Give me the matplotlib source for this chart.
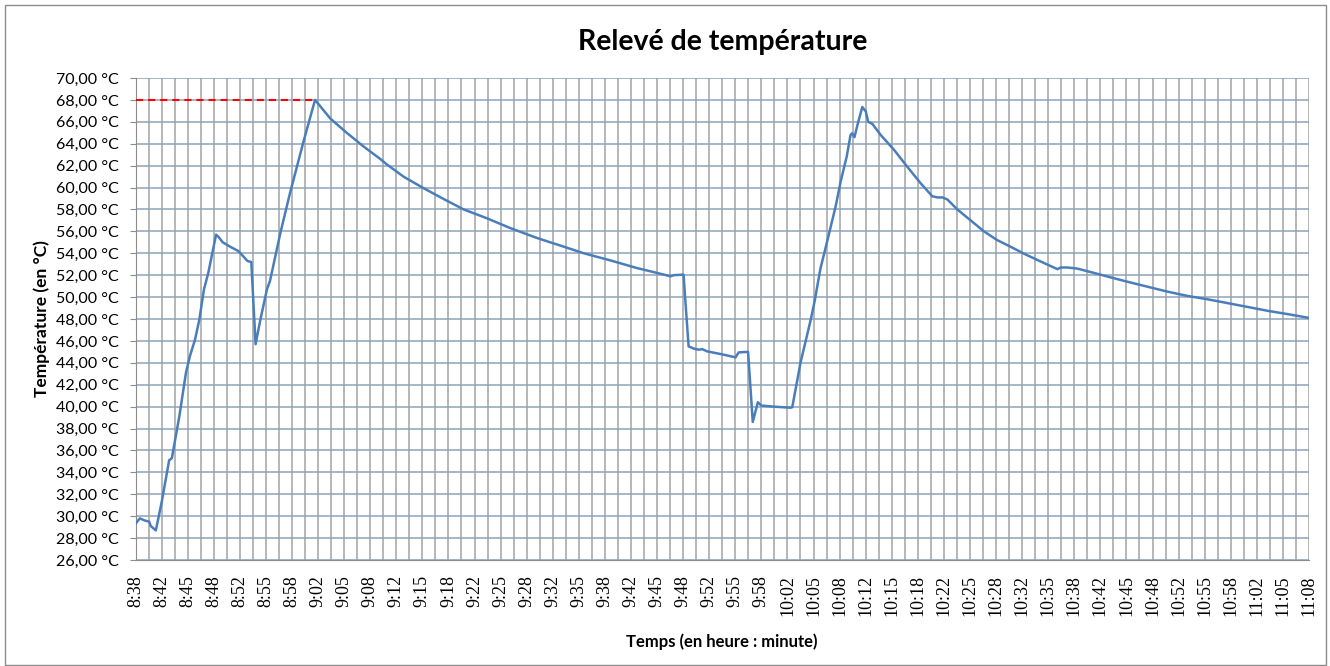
import matplotlib
matplotlib.use("Agg")
import matplotlib.pyplot as plt
from matplotlib.patches import Rectangle
from matplotlib.ticker import FixedLocator, MultipleLocator


# temperature log, minutes elapsed since the first reading (8:38)
minutes = [
    0.0, 0.55, 1.2, 1.75, 1.95, 2.6, 3.35, 4.3, 4.65, 5.6, 6.45, 6.95, 7.6, 8.15,
    8.75, 9.3, 10.3, 10.6, 11.15, 12.1, 13.15, 13.8, 14.3, 14.8, 15.35, 15.95,
    16.8, 17.2, 18.5, 19.75, 21.55, 22.95, 24.9, 27.0, 29.15, 31.3, 32.15, 34.25,
    36.8, 39.4, 41.95, 44.9, 47.9, 51.3, 54.75, 57.3, 60.7, 64.1, 66.7, 68.4,
    68.8, 70.05, 70.3, 70.7, 71.35, 72.0, 72.45, 73.05, 74.8, 76.7, 77.1, 78.3,
    78.9, 79.55, 80.0, 81.6, 83.75, 83.95, 85.0, 86.3, 86.8, 87.55, 88.45, 89.5,
    90.15, 90.9, 91.4, 91.6, 91.9, 92.35, 92.9, 93.35, 93.65, 94.2, 95.25, 96.95,
    98.65, 100.35, 101.85, 102.5, 103.15, 103.8, 105.05, 106.75, 108.45, 110.15,
    111.85, 113.6, 115.7, 117.85, 118.25, 119.15, 120.4, 122.55, 124.65, 126.8,
    129.35, 131.9, 134.5, 137.05, 139.6, 142.15, 144.7, 147.25, 150.0,
]
temperature = [
    29.3, 29.8, 29.6, 29.5, 29.1, 28.7, 31.3, 35.1, 35.3, 39.1, 43.1, 44.6, 46.1, 47.9,
    50.7, 52.2, 55.7, 55.5, 55.0, 54.6, 54.2, 53.7, 53.3, 53.2, 45.7, 47.9,
    50.7, 51.5, 55.8, 59.5, 64.4, 68.0, 66.3, 65.0, 63.75, 62.6, 62.1, 61.0,
    59.95, 58.95, 58.0, 57.2, 56.3, 55.4, 54.6, 54.0, 53.35, 52.65, 52.2, 51.9,
    52.0, 52.05, 49.5, 45.5, 45.3, 45.2, 45.25, 45.05, 44.8, 44.5, 44.95, 45.0,
    38.6, 40.4, 40.1, 40.0, 39.9, 39.95, 44.0, 47.9, 49.6, 52.6, 55.2, 58.3,
    60.6, 62.8, 64.8, 64.95, 64.6, 65.9, 67.35, 66.95, 66.0, 65.8, 64.8, 63.45,
    61.9, 60.4, 59.2, 59.1, 59.1, 58.9, 58.0, 57.0, 56.0, 55.2,
    54.6, 53.95, 53.25, 52.55, 52.7, 52.7, 52.6, 52.2, 51.8, 51.4,
    50.95, 50.5, 50.1, 49.8, 49.45, 49.1, 48.75, 48.45, 48.1,
]

# category labels shown every 200 s on the time axis
tick_labels = [
    "8:38", "8:42", "8:45", "8:48", "8:52", "8:55", "8:58", "9:02", "9:05", "9:08",
    "9:12", "9:15", "9:18", "9:22", "9:25", "9:28", "9:32", "9:35", "9:38", "9:42",
    "9:45", "9:48", "9:52", "9:55", "9:58", "10:02", "10:05", "10:08", "10:12",
    "10:15", "10:18", "10:22", "10:25", "10:28", "10:32", "10:35", "10:38", "10:42",
    "10:45", "10:48", "10:52", "10:55", "10:58", "11:02", "11:05", "11:08",
]
y_ticks = list(range(26, 72, 2))

LABEL_STEP = 200 / 60.0  # minutes between two labels

SANS = ["Lato", "DejaVu Sans"]
SERIF = ["Liberation Serif", "DejaVu Serif"]

fig = plt.figure(figsize=(13.3, 6.66), dpi=100)
fig.patch.set_facecolor("white")
fig.patches.append(Rectangle((5 / 1330, 1 / 666), 1321 / 1330, 660 / 666,
                             transform=fig.transFigure, fill=False,
                             edgecolor="#8c8c8c", linewidth=1.0))

ax = fig.add_axes([135.5 / 1330, 106 / 666, 1173.5 / 1330, 482 / 666])

ax.plot(minutes, temperature, color="#4a7ebb", linewidth=1.8, zorder=3)

# red dashed marker at the first peak
peak = max(temperature)
t_peak = minutes[temperature.index(peak)]
ax.hlines(peak, minutes[0], t_peak, colors="#ff0000", linewidth=1.5,
          linestyles=(0, (3.4, 2.4)), zorder=4)

ax.set_xlim(0, 150)
ax.set_ylim(26, 70)

xpos = [i * LABEL_STEP for i in range(len(tick_labels))]
ax.xaxis.set_major_locator(FixedLocator(xpos))
ax.xaxis.set_minor_locator(MultipleLocator(LABEL_STEP / 2))
ax.set_xticklabels(tick_labels, rotation=90, fontfamily=SERIF, fontsize=13)
ax.set_yticks(y_ticks)
ax.set_yticklabels([f"{v:.2f}".replace(".", ",") + " °C" for v in y_ticks],
                   fontfamily=SANS, fontsize=11.5)

ax.grid(axis="y", which="major", color="#8ba3ba", linewidth=1.1)
ax.grid(axis="x", which="both", color="#a3a3a3", linewidth=1.1)
ax.set_axisbelow(True)

ax.tick_params(axis="x", which="both", length=0, pad=11)
ax.tick_params(axis="y", which="major", length=4, color="#8c8c8c", pad=8)
for side in ("top", "right", "bottom", "left"):
    ax.spines[side].set_visible(False)
ax.spines["left"].set_visible(True)
ax.spines["left"].set_color("#8c8c8c")
ax.spines["bottom"].set_visible(True)
ax.spines["bottom"].set_color("#8c8c8c")

ax.set_title("Relevé de température", fontfamily=SANS, fontweight="bold",
             fontsize=20.5, pad=20)
ax.set_xlabel("Temps (en heure : minute)", fontfamily=SANS, fontweight="bold",
              fontsize=12, labelpad=12)
ax.set_ylabel("Température (en °C)", fontfamily=SANS, fontweight="bold",
              fontsize=12.5, labelpad=4)

fig.savefig("out.png", dpi=100, facecolor="white")
